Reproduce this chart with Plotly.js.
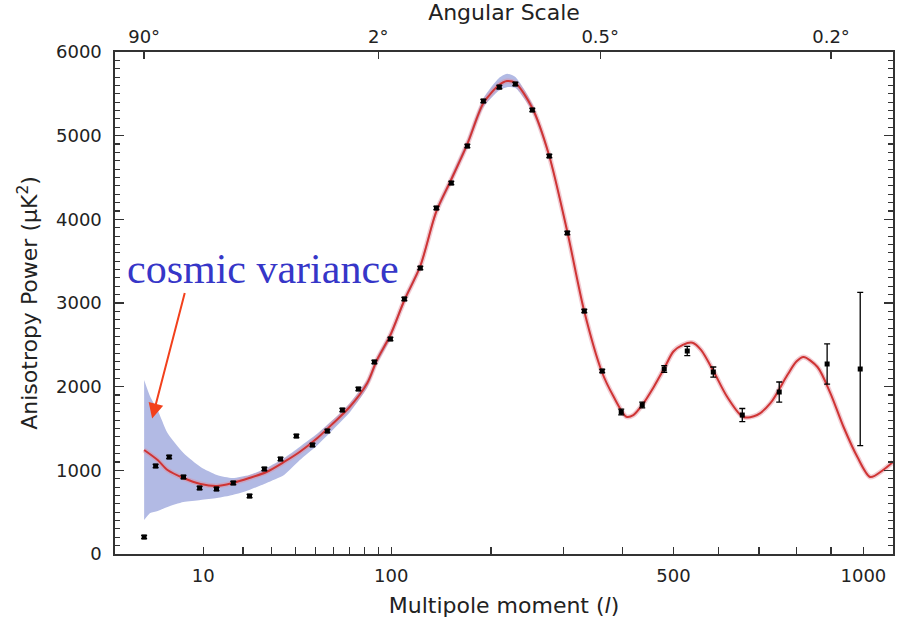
<!DOCTYPE html>
<html>
<head>
<meta charset="utf-8">
<script src="https://cdn.plot.ly/plotly-3.0.1.min.js"></script>
<style>html,body{margin:0;padding:0;background:#fff;}#chart{width:897px;height:618px;}</style>
</head>
<body>
<div id="chart"></div>
<script>
// ---- data ----
const pointL = [2,3,4.5,6.5,9.3,12.9,17.2,22.1,27.2,33.5,40.5,48.4,56.5,65.4,75.8,87.1,99.4,110.9,125,140.2,155.3,172.6,190.9,210.3,230.9,254,278.5,305.9,333.2,363.5,397.4,437,480.9,529.6,588.1,657.6,753,888.4,989.9];
const pointPower = [203,1052,1159,920,789,777,849,693,1016,1135,1410,1303,1470,1721,1972,2295,2570,3048,3418,4135,4434,4876,5414,5581,5617,5307,4757,3837,2904,2187,1697,1781,2211,2426,2175,1661,1936,2271,2211];
const pointError = [20,20,20,20,20,20,20,20,20,20,20,20,20,20,20,20,20,20,20,20,20,20,20,20,20,20,20,20,20,20,35,35,40,55,60,78,120,240,915];

const modelL = [2,3.2,4.3,6.5,9.5,13,17,22,28,35,42,51,60,70,82,89,99,111,125,140,155,173,191,210,220,231,254,278,306,333,363,383,407,420,437,460,481,500,520,541,560,588,621,660,695,730,775,800,820,860,898,938,981,1022,1064,1097];
const modelPower = [1243,1123,1004,908,837,813,849,908,980,1100,1219,1386,1566,1757,2044,2319,2605,3036,3442,4088,4470,4912,5390,5605,5653,5629,5330,4769,3848,2904,2175,1888,1640,1660,1781,2000,2220,2420,2500,2525,2440,2190,1876,1637,1661,1805,2139,2300,2354,2235,1924,1518,1159,920,1004,1100];

const bandL = [2,2.5,3.2,4.3,6.5,9.5,13,17,22,28,35,42,51,60,70,82,89,99,111,125,140,155,173,191,210,220,231,254,278,306];
const bandUpper = [2080,1880,1721,1446,1207,1040,944,908,944,1028,1147,1280,1440,1610,1800,2085,2355,2640,3070,3475,4125,4510,4960,5450,5690,5740,5700,5380,4800,3860];
const bandLower = [406,490,514,562,621,645,669,705,765,849,944,1120,1300,1490,1690,1990,2270,2560,3000,3405,4050,4430,4870,5340,5540,5580,5570,5290,4740,3835];

const multipoleTicks = [10,20,30,40,50,60,70,80,90,100,200,300,400,500,600,700,800,900,1000];
const multipoleLabels = ['10','','','','','','','','','100','','','','500','','','','','1000'];
const angleDegrees = [90,2,0.5,0.2];
const angleLabels = ['90°','2°','0.5°','0.2°'];
const xRangeL = [0.457, 1097];

// axis scale used by the original figure: position ∝ l^0.4
const toU = l => Math.pow(l, 0.4);

const font = 'DejaVu Sans, Arial, sans-serif';

const traces = [
  { // cosmic variance band
    x: bandL.map(toU).concat(bandL.slice().reverse().map(toU)),
    y: bandUpper.concat(bandLower.slice().reverse()),
    type: 'scatter', mode: 'lines', fill: 'toself',
    fillcolor: '#b2bae4', line: {width: 0, color: '#b2bae4', shape: 'spline', smoothing: 0.6},
    hoverinfo: 'skip', showlegend: false
  },
  { // halo of model curve
    x: modelL.map(toU), y: modelPower, type: 'scatter', mode: 'lines',
    line: {color: 'rgba(225,140,155,0.45)', width: 5, shape: 'spline', smoothing: 0.8},
    hoverinfo: 'skip', showlegend: false
  },
  { // model curve
    x: modelL.map(toU), y: modelPower, type: 'scatter', mode: 'lines',
    line: {color: '#cf3434', width: 2, shape: 'spline', smoothing: 0.8},
    showlegend: false
  },
  { // measurements
    x: pointL.map(toU), y: pointPower, type: 'scatter', mode: 'markers',
    marker: {symbol: 'square', size: 5, color: '#000'},
    error_y: {type: 'data', array: pointError, visible: true, color: '#000', thickness: 1.3, width: 3},
    showlegend: false
  },
  { // carrier for the top axis
    x: angleDegrees.map(d => toU(180 / d)), y: [0,0,0,0], xaxis: 'x2', yaxis: 'y',
    type: 'scatter', mode: 'markers', marker: {opacity: 0}, hoverinfo: 'skip', showlegend: false
  }
];

const axisLine = {showline: true, linecolor: '#333', linewidth: 1.6, zeroline: false, showgrid: false,
  ticks: 'inside', tickcolor: '#333', tickwidth: 1.3};

const layout = {
  width: 897, height: 618,
  margin: {l: 115, r: 4, t: 52, b: 64},
  paper_bgcolor: '#fff', plot_bgcolor: '#fff',
  font: {family: font, color: '#222', size: 18},
  xaxis: Object.assign({}, axisLine, {
    range: xRangeL.map(toU),
    tickmode: 'array', tickvals: multipoleTicks.map(toU), ticktext: multipoleLabels,
    ticklen: 7, ticklabelstandoff: 5,
    tickfont: {family: font, size: 18, color: '#222'},
    title: {text: 'Multipole moment (<i>l</i>)', font: {family: font, size: 22, color: '#222'}, standoff: 13}
  }),
  xaxis2: Object.assign({}, axisLine, {
    overlaying: 'x', side: 'top', anchor: 'y',
    range: xRangeL.map(toU),
    tickmode: 'array', tickvals: angleDegrees.map(d => toU(180 / d)), ticktext: angleLabels,
    ticklen: 7, ticklabelstandoff: 0,
    tickfont: {family: font, size: 18, color: '#222'},
    title: {text: 'Angular Scale', font: {family: font, size: 22, color: '#222'}, standoff: 25}
  }),
  yaxis: Object.assign({}, axisLine, {
    range: [0, 6000], tickmode: 'linear', tick0: 0, dtick: 1000,
    ticklen: 9, mirror: 'ticks', ticklabelstandoff: 8,
    minor: {dtick: 100, ticks: 'inside', ticklen: 5, tickcolor: '#333', tickwidth: 1.1},
    tickfont: {family: font, size: 18, color: '#222'},
    title: {text: 'Anisotropy Power (μK<sup>2</sup>)', font: {family: font, size: 22, color: '#222'}, standoff: 12}
  }),
  annotations: [
    {
      xref: 'paper', yref: 'paper', x: 0.19, y: 0.568, xanchor: 'center', yanchor: 'middle',
      text: 'cosmic variance', showarrow: false,
      font: {family: 'Liberation Serif, Times New Roman, serif', size: 42, color: '#3636c8'}
    },
    {
      x: toU(2.67), y: 1620, xref: 'x', yref: 'y', text: '',
      showarrow: true, arrowhead: 2, arrowsize: 1.5, arrowwidth: 2, arrowcolor: '#f2401c',
      ax: 33, ay: -127, standoff: 0
    }
  ]
};

Plotly.newPlot('chart', traces, layout, {displayModeBar: false, staticPlot: true});
</script>
</body>
</html>
